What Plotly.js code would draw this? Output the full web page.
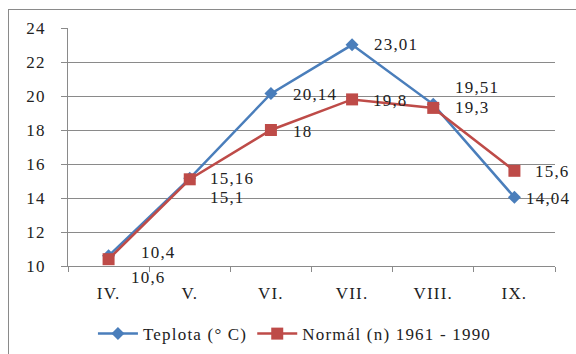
<!DOCTYPE html>
<html><head><meta charset="utf-8">
<script src="https://cdn.plot.ly/plotly-3.0.1.min.js"></script>
<style>
html,body{margin:0;padding:0;background:#fff;}
#frame{position:absolute;left:8px;top:9px;width:580px;height:360px;border:1.5px solid #8a8a8a;box-sizing:border-box;pointer-events:none;z-index:5;}
#chart{position:absolute;left:0;top:0;width:576px;height:354px;}
svg text{letter-spacing:1.2px;}
</style></head>
<body>
<div id="chart"></div><div id="frame"></div>
<script>
const months = ["IV.", "V.", "VI.", "VII.", "VIII.", "IX."];
const teplota = [10.6, 15.16, 20.14, 23.01, 19.51, 14.04];
const normal = [10.4, 15.1, 18, 19.8, 19.3, 15.6];
const teplotaLabels = ["10,6", "15,16", "20,14", "23,01", "19,51", "14,04"];
const normalLabels = ["10,4", "15,1", "18", "19,8", "19,3", "15,6"];
const yTicks = [10, 12, 14, 16, 18, 20, 22, 24];

// label offsets (pixels) – styling only
const tShift = [[20,-22],[18,0],[20,-1],[20,0],[20,17],[10,-1]];
const nShift = [[30,7],[18,-18],[20,-1],[19,-1],[20,0],[19,-1]];

const FAM = "Liberation Serif, serif";
const font = {family: FAM, size: 17, color: "#222"};
const annotations = [];
months.forEach((m, i) => {
  annotations.push({x: m, y: teplota[i], text: teplotaLabels[i], showarrow: false,
    xanchor: "left", yanchor: "middle",
    xshift: tShift[i][0], yshift: tShift[i][1], font: font});
  annotations.push({x: m, y: normal[i], text: normalLabels[i], showarrow: false,
    xanchor: "left", yanchor: "middle",
    xshift: nShift[i][0], yshift: nShift[i][1], font: font});
});

const data = [
  {x: months, y: teplota, name: "Teplota (° C)", type: "scatter", mode: "lines+markers",
   line: {color: "#4a7ebb", width: 2.5},
   marker: {symbol: "diamond", size: 10, color: "#4a7ebb"}},
  {x: months, y: normal, name: "Normál (n) 1961 - 1990", type: "scatter", mode: "lines+markers",
   line: {color: "#be4b48", width: 2.5},
   marker: {symbol: "square", size: 12, color: "#be4b48"}}
];

const layout = {
  width: 576, height: 354,
  margin: {l: 68, r: 21, t: 28, b: 88, autoexpand: false},
  paper_bgcolor: "rgba(0,0,0,0)", plot_bgcolor: "rgba(0,0,0,0)",
  font: font,
  showlegend: true,
  legend: {orientation: "h", x: 0.466, xanchor: "center", y: -0.286, yanchor: "middle",
    font: font, itemwidth: 40, tracegroupgap: 0},
  xaxis: {type: "category", showgrid: false, showline: true, linecolor: "#8a8a8a", linewidth: 1,
    ticks: "outside", ticklen: 5, tickcolor: "#8a8a8a", tickson: "boundaries",
    tickfont: font, fixedrange: true, range: [-0.5, 5.5], ticklabelstandoff: 12},
  yaxis: {range: [10, 24], tickvals: yTicks, ticktext: yTicks.map(String),
    showgrid: true, gridcolor: "#8a8a8a", gridwidth: 1, showline: true, linecolor: "#8a8a8a",
    ticks: "outside", ticklen: 6, tickcolor: "#8a8a8a", tickfont: font, zeroline: false,
    ticklabelstandoff: 12},
  annotations: annotations
};

Plotly.newPlot("chart", data, layout, {displayModeBar: false, staticPlot: true});
</script>
</body></html>
